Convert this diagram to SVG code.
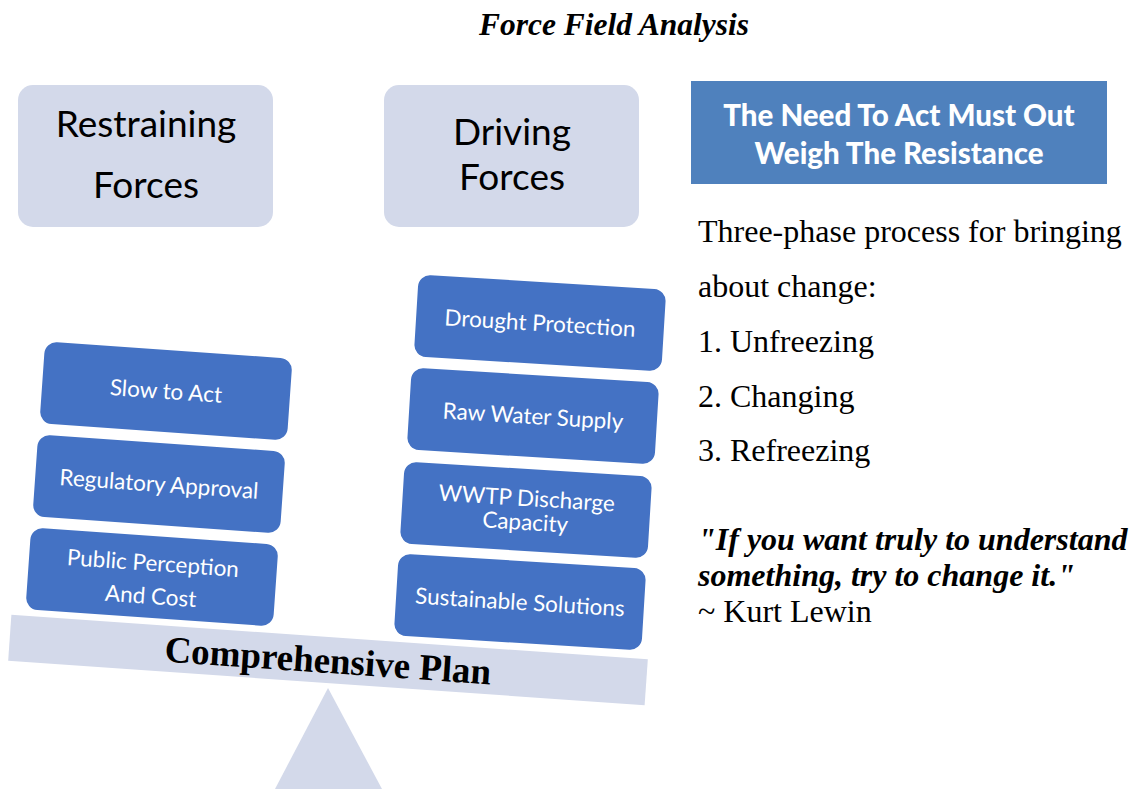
<svg xmlns="http://www.w3.org/2000/svg" width="1133" height="789" viewBox="0 0 1133 789">
  <style>
    .head { fill: #D3D9EA; }
    .force { fill: #4472C4; }
    .headtxt { font-family: Lato, "Open Sans", sans-serif; font-size: 37px; fill: #000; text-anchor: middle; }
    .forcetxt { font-family: Lato, "Open Sans", sans-serif; font-size: 22.5px; fill: #fff; text-anchor: middle; }
    .body { font-family: "Liberation Serif", serif; font-size: 32px; fill: #000; }
    .quote { font-family: "Liberation Serif", serif; font-size: 32px; font-weight: bold; font-style: italic; fill: #000; }
  </style>

  <rect width="1133" height="789" fill="#fff"/>

  <text x="614" y="35" font-family="Liberation Serif, serif" font-size="31.5" font-weight="bold" font-style="italic" text-anchor="middle">Force Field Analysis</text>

  <!-- heading cards -->
  <g id="restraining">
    <rect class="head" x="18" y="85" width="255" height="142" rx="15"/>
    <text class="headtxt" x="146" y="137">Restraining</text>
    <text class="headtxt" x="146" y="198">Forces</text>
  </g>
  <g id="driving">
    <rect class="head" x="384" y="85" width="255" height="142" rx="15"/>
    <text class="headtxt" x="512" y="145">Driving</text>
    <text class="headtxt" x="512" y="190">Forces</text>
  </g>

  <!-- call-out banner -->
  <g id="banner">
    <rect x="691" y="81" width="416" height="103" fill="#4F81BD"/>
    <text x="899" y="126" font-family="Lato, 'Open Sans', sans-serif" font-size="29.5" font-weight="900" fill="#fff" text-anchor="middle">The Need To Act Must Out</text>
    <text x="899" y="164" font-family="Lato, 'Open Sans', sans-serif" font-size="29.5" font-weight="900" fill="#fff" text-anchor="middle">Weigh The Resistance</text>
  </g>

  <!-- lever beam and fulcrum -->
  <g id="fulcrum">
    <polygon points="328,688 275,789 382,789" fill="#D3D9EA"/>
  </g>
  <g id="beam" transform="translate(328,660) rotate(4)">
    <rect class="head" x="-319" y="-23" width="638" height="46"/>
    <text x="0" y="13" font-family="Liberation Serif, serif" font-size="37" font-weight="bold" text-anchor="middle">Comprehensive Plan</text>
  </g>

  <!-- restraining forces -->
  <g id="slow" transform="translate(166,391) rotate(4)">
    <rect class="force" x="-124" y="-41" width="248" height="82" rx="12"/>
    <text class="forcetxt" x="0" y="8">Slow to Act</text>
  </g>
  <g id="regulatory" transform="translate(159,484) rotate(4)">
    <rect class="force" x="-124" y="-41" width="248" height="82" rx="12"/>
    <text class="forcetxt" x="0" y="8">Regulatory Approval</text>
  </g>
  <g id="public" transform="translate(152,577) rotate(4)">
    <rect class="force" x="-124" y="-41" width="248" height="82" rx="12"/>
    <text class="forcetxt" x="0" y="-6">Public Perception</text>
    <text class="forcetxt" x="0" y="27">And Cost</text>
  </g>

  <!-- driving forces -->
  <g id="drought" transform="translate(540,323) rotate(3.5)">
    <rect class="force" x="-124" y="-41" width="248" height="82" rx="12"/>
    <text class="forcetxt" x="0" y="8">Drought Protection</text>
  </g>
  <g id="rawwater" transform="translate(533,416) rotate(3.5)">
    <rect class="force" x="-124" y="-41" width="248" height="82" rx="12"/>
    <text class="forcetxt" x="0" y="8">Raw Water Supply</text>
  </g>
  <g id="wwtp" transform="translate(526,510) rotate(3.5)">
    <rect class="force" x="-124" y="-41" width="248" height="82" rx="12"/>
    <text class="forcetxt" x="0" y="-4">WWTP Discharge</text>
    <text class="forcetxt" x="0" y="20">Capacity</text>
  </g>
  <g id="sustainable" transform="translate(520,602) rotate(3.5)">
    <rect class="force" x="-124" y="-41" width="248" height="82" rx="12"/>
    <text class="forcetxt" x="0" y="8">Sustainable Solutions</text>
  </g>

  <g id="connectors"/>

  <!-- process notes -->
  <g id="notes">
    <text class="body" x="698" y="242">Three-phase process for bringing</text>
    <text class="body" x="698" y="297">about change:</text>
    <text class="body" x="698" y="352">1. Unfreezing</text>
    <text class="body" x="698" y="407">2. Changing</text>
    <text class="body" x="698" y="461">3. Refreezing</text>
    <text class="quote" x="698" y="550">"If you want truly to understand</text>
    <text class="quote" x="698" y="586">something, try to change it."</text>
    <text class="body" x="698" y="622">~ Kurt Lewin</text>
  </g>
</svg>
